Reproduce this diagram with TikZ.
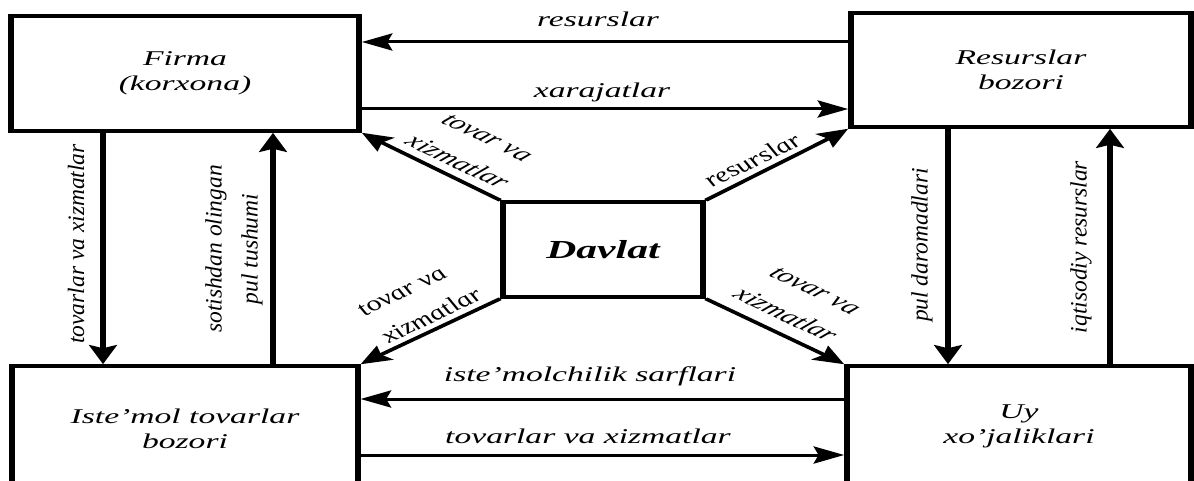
\documentclass[tikz,border=0pt]{standalone}
\usepackage{fontspec}
\setmainfont{Liberation Serif}
\usetikzlibrary{arrows.meta}
\tikzset{
  box/.style={draw, line width=3.5pt, inner sep=0pt, align=center,
    font=\itshape\fontsize{21}{25}\selectfont},
  lbl/.style={inner sep=0pt, align=center, font=\itshape\fontsize{21}{25}\selectfont},
  dlbl/.style={inner sep=0pt, align=center, font=\itshape\fontsize{20}{31}\selectfont},
  vlbl/.style={inner sep=0pt, align=center, rotate=90,
    font=\itshape\fontsize{23.5}{36}\selectfont},
  arr/.style={line width=3pt, -{Stealth[length=19pt, width=17pt, inset=3pt]}},
  varr/.style={line width=4pt, -{Stealth[length=19pt, width=17pt, inset=3pt]}},
  darr/.style={line width=3.2pt, -{Stealth[length=19pt, width=17pt, inset=3pt]}},
}
\begin{document}
\begin{tikzpicture}[x=1pt, y=-1pt]
\useasboundingbox (0,0) rectangle (1194,481);
\clip (0,0) rectangle (1194,481);
\begin{scope}[x=0.625pt, transform canvas={xscale=1.6}]
  % boxes
  \node[box, minimum width=217.5pt, minimum height=115pt] (firma) at (185,73.5) {Firma\\(korxona)};
  \node[box, minimum width=212.5pt, minimum height=114pt] (res) at (1021,70) {Resurslar\\bozori};
  \node[box, minimum width=216pt, minimum height=126pt] (iste) at (185,429) {Iste’mol tovarlar\\bozori};
  \node[box, minimum width=215pt, minimum height=120pt] (uy) at (1019,426) {Uy\\xo’jaliklari};
  \node[box, minimum width=125pt, minimum height=95pt,
        font=\bfseries\itshape\fontsize{26}{30}\selectfont] (davlat) at (603,249.5) {Davlat};
  % helper coordinates
  \coordinate (xa) at (103,0);
  \coordinate (xb) at (273,0);
  \coordinate (xc) at (948,0);
  \coordinate (xd) at (1110,0);
  \coordinate (ya) at (0,42);
  \coordinate (yb) at (0,109);
  \coordinate (yc) at (0,399);
  \coordinate (yd) at (0,455);
  % horizontal arrows
  \draw[arr] (res.west |- ya) -- (firma.east |- ya);
  \draw[arr] (firma.east |- yb) -- (res.west |- yb);
  \draw[arr] (uy.west |- yc) -- (iste.east |- yc);
  \draw[arr] (iste.east |- yd) -- (uy.west |- yd);
  % vertical arrows
  \draw[varr] (firma.south -| xa) -- (iste.north -| xa);
  \draw[varr] (iste.north -| xb) -- (firma.south -| xb);
  \draw[varr] (res.south -| xc) -- (uy.north -| xc);
  \draw[varr] (uy.north -| xd) -- (res.south -| xd);
  % diagonal arrows
  \draw[darr] (davlat.north west) -- (firma.south east);
  \draw[darr] (davlat.north east) -- (res.south west);
  \draw[darr] (davlat.south west) -- (iste.north east);
  \draw[darr] (davlat.south east) -- (uy.north west);
  % horizontal labels
  \node[lbl] (lres) at (598,19) {resurslar};
  \node[lbl] (lxar) at (602,92) {xarajatlar};
  \node[lbl] (list) at (590,376) {iste’molchilik sarflari};
  \node[lbl] (ltov) at (588,436) {tovarlar va xizmatlar};
  % diagonal labels
  \node[dlbl, rotate=-37.3] (dul) at (472,150) {tovar va\\xizmatlar};
  \node[dlbl, rotate=37.3] (dur) at (752,160) {resurslar};
  \node[dlbl, rotate=37.3] (dll) at (417,304) {tovar va\\xizmatlar};
  \node[dlbl, rotate=-37.3] (dlr) at (800,303) {tovar va\\xizmatlar};
\end{scope}
% vertical labels (not stretched)
\node[vlbl] (v1) at (76,244) {tovarlar va xizmatlar};
\node[vlbl] (v2) at (234,249) {sotishdan olingan\\pul tushumi};
\node[vlbl] (v3) at (922,245) {pul daromadlari};
\node[vlbl] (v4) at (1081,247) {iqtisodiy resurslar};
\end{tikzpicture}
\end{document}
